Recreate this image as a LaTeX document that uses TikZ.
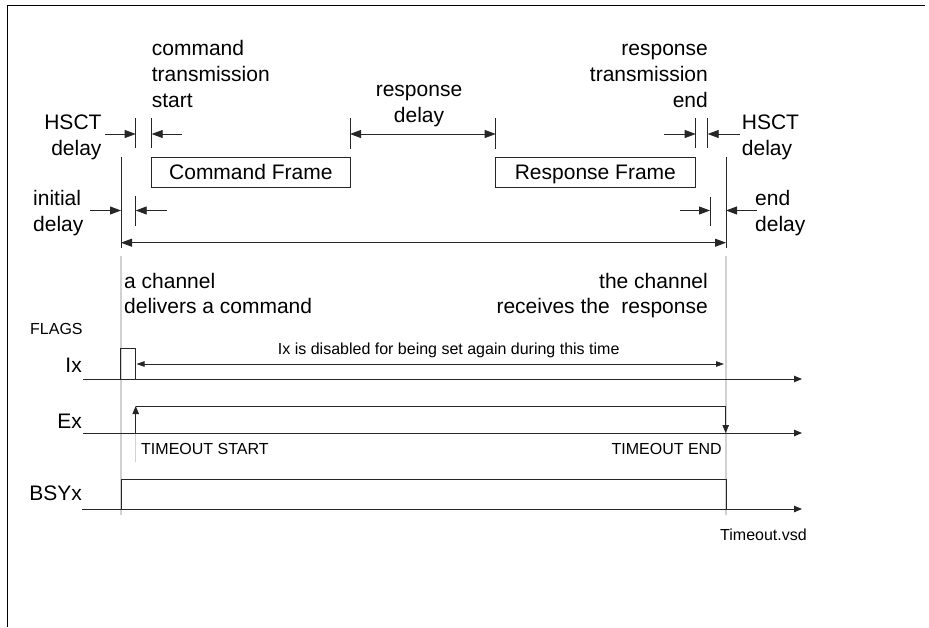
\documentclass[tikz,border=0pt]{standalone}
\usepackage{fontspec}
\setmainfont{Liberation Sans}
\usetikzlibrary{arrows.meta}
\begin{document}
\begin{tikzpicture}[x=1pt,y=-1pt,
  ln/.style={draw=black!85, line width=0.9pt},
  guide/.style={draw=black!18, line width=1.1pt},
  big/.style={font=\fontsize{21}{26}\selectfont, inner sep=0pt},
  small/.style={font=\fontsize{16}{19}\selectfont, inner sep=0pt},
  arr/.style={-{Triangle[length=11pt,width=8pt]}},
  darr/.style={{Triangle[length=11pt,width=8pt]}-{Triangle[length=11pt,width=8pt]}},
  sarr/.style={-{Triangle[length=8pt,width=6.5pt]}},
  sdarr/.style={{Triangle[length=8pt,width=5.5pt]}-{Triangle[length=8pt,width=5.5pt]}},
  framebox/.style={ln, draw, inner sep=0pt, minimum width=198.3pt, minimum height=30pt,
     text height=15pt, text depth=0pt, font=\fontsize{21}{26}\selectfont}
]
\useasboundingbox (0,0) rectangle (929,627);
% outer frame (left and top edge)
\draw[black, line width=1pt] (7,627) -- (7,5) -- (925,5);

% guide lines
\coordinate (g0a) at (121,256); \coordinate (g0b) at (121,515);
\coordinate (g1a) at (726,256); \coordinate (g1b) at (726,515);
\coordinate (g2a) at (135.7,433); \coordinate (g2b) at (135.7,462);
\draw[guide] (g0a) -- (g0b);
\draw[guide] (g1a) -- (g1b);
\draw[guide] (g2a) -- (g2b);

% main time markers
\coordinate (m0a) at (121,157); \coordinate (m0b) at (121,248);
\coordinate (m1a) at (726,157); \coordinate (m1b) at (726,248);
\draw[ln] (m0a) -- (m0b);
\draw[ln] (m1a) -- (m1b);

% ticks
\foreach \x/\ya/\yb in {135.7/118/148, 151.7/118/148, 350/118/149, 495.7/118/149,
                        695.7/118/148, 707.7/118/148, 135.7/196/226, 710/197/226}
  \draw[ln] (\x,\ya) -- (\x,\yb);

% frames
\node[framebox, minimum width=198.3pt] (cmdf) at (250.85,172) {Command Frame};
\node[framebox, minimum width=199.3pt] (rspf) at (595.35,172) {Response Frame};

% arrows, top
\coordinate (hl0) at (105,134);   \coordinate (hl1) at (135.7,134);
\coordinate (hl2) at (182,134);   \coordinate (hl3) at (151.7,134);
\draw[ln,arr] (hl0) -- (hl1);
\draw[ln,arr] (hl2) -- (hl3);
\coordinate (rd0) at (350,134);   \coordinate (rd1) at (495.7,134);
\draw[ln,darr] (rd0) -- (rd1);
\coordinate (hr0) at (664,134);   \coordinate (hr1) at (695.7,134);
\coordinate (hr2) at (740,134);   \coordinate (hr3) at (707.7,134);
\draw[ln,arr] (hr0) -- (hr1);
\draw[ln,arr] (hr2) -- (hr3);
\coordinate (id0) at (90,210.5);  \coordinate (id1) at (121,210.5);
\coordinate (id2) at (167,210.5); \coordinate (id3) at (135.7,210.5);
\draw[ln,arr] (id0) -- (id1);
\draw[ln,arr] (id2) -- (id3);
\coordinate (ed0) at (680,210.5); \coordinate (ed1) at (710,210.5);
\coordinate (ed2) at (757,210.5); \coordinate (ed3) at (726,210.5);
\draw[ln,arr] (ed0) -- (ed1);
\draw[ln,arr] (ed2) -- (ed3);
\coordinate (tt0) at (121,242.7); \coordinate (tt1) at (726,242.7);
\draw[ln,darr] (tt0) -- (tt1);

% top texts
\node[big, anchor=base west] (cts1) at (151.7,55) {command};
\node[big, anchor=base west] (cts2) at (151.7,81) {transmission};
\node[big, anchor=base west] (cts3) at (151.7,107) {start};
\node[big, anchor=base east] (rte1) at (708,55) {response};
\node[big, anchor=base east] (rte2) at (708,81) {transmission};
\node[big, anchor=base east] (rte3) at (708,107) {end};
\node[big, anchor=base] (rsd1) at (419,96) {response};
\node[big, anchor=base] (rsd2) at (419,122) {delay};
\node[big, anchor=base east] (hsl1) at (101.7,129) {HSCT};
\node[big, anchor=base east] (hsl2) at (101.7,155) {delay};
\node[big, anchor=base west] (hsr1) at (741.7,129) {HSCT};
\node[big, anchor=base west] (hsr2) at (741.7,155) {delay};
\node[big, anchor=base west] (ini1) at (33,205) {initial};
\node[big, anchor=base west] (ini2) at (33,231) {delay};
\node[big, anchor=base west] (end1) at (755,205) {end};
\node[big, anchor=base west] (end2) at (755,231) {delay};

\node[big, anchor=base west] (dl1) at (124,288.5) {a channel};
\node[big, anchor=base west] (dl2) at (124,313.5) {delivers a command};
\node[big, anchor=base east] (rc1) at (708,288.5) {the channel};
\node[big, anchor=base east] (rc2) at (708,313.5) {receives the\ \ response};

% flags
\node[small, anchor=base west] (flags) at (30,334) {FLAGS};
\node[big, anchor=base east] (ixl) at (82,372) {Ix};
\node[big, anchor=base east] (exl) at (82,428) {Ex};
\node[big, anchor=base east] (bsl) at (82,500) {BSYx};

% axes
\coordinate (ax0) at (83,379);  \coordinate (ax1) at (802,379);
\coordinate (ex0) at (83,433);  \coordinate (ex1) at (802,433);
\coordinate (bx0) at (82,509);  \coordinate (bx1) at (802,509);
\draw[ln,sarr] (ax0) -- (ax1);
\draw[ln,sarr] (ex0) -- (ex1);
\draw[ln,sarr] (bx0) -- (bx1);

% Ix pulse
\draw[ln] (120.7,379) -- (120.7,348) -- (135.7,348) -- (135.7,379);
\coordinate (ia0) at (136.5,364); \coordinate (ia1) at (724,364);
\draw[ln,sdarr] (ia0) -- (ia1);
\node[small, anchor=base] (ixt) at (448.7,354.3) {Ix is disabled for being set again during this time};

% Ex signal
\coordinate (e0) at (135.7,433); \coordinate (e1) at (135.7,406);
\coordinate (e2) at (725.7,406); \coordinate (e3) at (725.7,433);
\draw[ln,sarr] (e0) -- (e1);
\draw[ln] (e1) -- (e2);
\draw[ln,sarr] (e2) -- (e3);
\node[small, anchor=base west] (tos) at (141,454) {TIMEOUT START};
\node[small, anchor=base east] (toe) at (722,454) {TIMEOUT END};

% BSYx pulse
\draw[ln] (121,509) -- (121,479) -- (726,479) -- (726,509);

\node[small, anchor=base west] (vsd) at (720,540) {Timeout.vsd};
\end{tikzpicture}
\end{document}
